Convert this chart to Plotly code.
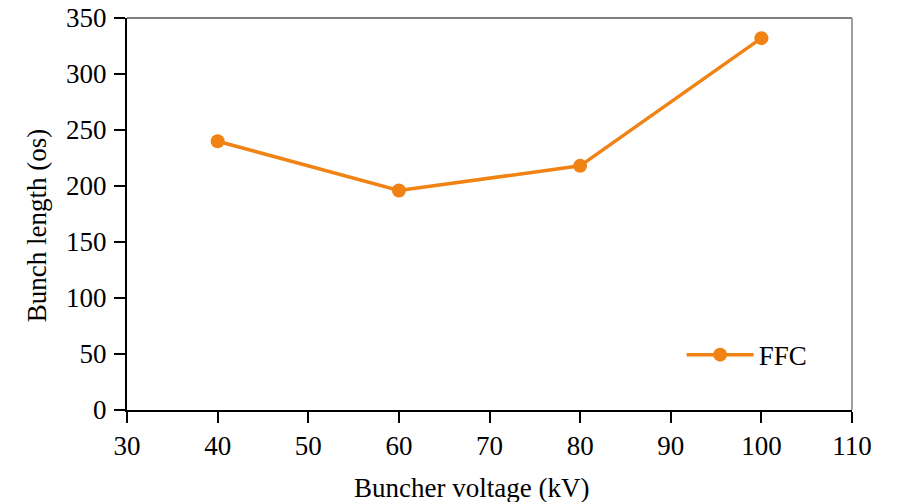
import plotly.graph_objects as go

voltage_kv = [40, 60, 80, 100]
bunch_length = [240, 196, 218, 332]
series_name = "FFC"
x_title = "Buncher voltage (kV)"
y_title = "Bunch length (os)"

ORANGE = "#F08314"
FONT = "Liberation Serif"

fig = go.Figure()
fig.add_trace(go.Scatter(
    x=voltage_kv, y=bunch_length, name=series_name, mode="lines+markers",
    line=dict(color=ORANGE, width=3.5),
    marker=dict(color=ORANGE, size=14),
    cliponaxis=False,
))

fig.update_layout(
    width=905, height=502,
    margin=dict(l=127, r=53, t=18, b=92, autoexpand=False),
    paper_bgcolor="white", plot_bgcolor="white",
    font=dict(family=FONT, size=27, color="black"),
    showlegend=True,
    legend=dict(x=0.765, y=0.14, xanchor="left", yanchor="middle",
                bgcolor="rgba(0,0,0,0)", font=dict(family=FONT, size=27, color="black"),
                itemwidth=67),
    xaxis=dict(range=[30, 110], dtick=10, tick0=30, showgrid=False, zeroline=False,
               automargin=False,
               showline=True, linecolor="black", linewidth=2, mirror=False,
               ticks="outside", ticklen=11, tickwidth=2, tickcolor="black",
               tickfont=dict(family=FONT, size=27, color="black")),
    yaxis=dict(range=[0, 350], dtick=50, tick0=0, showgrid=False, zeroline=False,
               automargin=False,
               showline=True, linecolor="black", linewidth=2, mirror=False,
               ticks="outside", ticklen=11, tickwidth=2, tickcolor="black",
               ticklabelstandoff=2,
               tickfont=dict(family=FONT, size=27, color="black")),
    shapes=[
        dict(type="line", xref="paper", yref="paper", x0=0, x1=1, y0=1, y1=1,
             line=dict(color="black", width=1)),
        dict(type="line", xref="paper", yref="paper", x0=1, x1=1, y0=0, y1=1,
             line=dict(color="#808080", width=1.5)),
    ],
    annotations=[
        dict(text=x_title, xref="paper", yref="paper", x=0.475, y=-0.2,
             xanchor="center", yanchor="middle", showarrow=False,
             font=dict(family=FONT, size=27, color="black")),
        dict(text=y_title, xref="paper", yref="paper", x=-0.125, y=0.47,
             xanchor="center", yanchor="middle", showarrow=False, textangle=-90,
             font=dict(family=FONT, size=27, color="black")),
    ],
)

fig.write_html("out.html")
